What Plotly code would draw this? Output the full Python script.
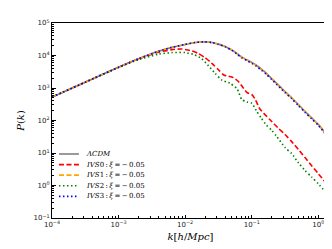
import numpy as np
import plotly.graph_objects as go

# log10(k) and log10(P) values
lcdm_logk = [-4.0, -3.5, -3.0, -2.7, -2.4, -2.2, -2.0, -1.85, -1.72, -1.6, -1.5, -1.4, -1.3, -1.22,
             -1.15, -1.07, -1.0, -0.93, -0.85, -0.78, -0.7, -0.63, -0.5, -0.4, -0.3, -0.2, -0.1, 0.0, 0.16]
lcdm_logP = [2.72, 3.18, 3.64, 3.90, 4.13, 4.25, 4.34, 4.40, 4.42, 4.40, 4.35, 4.28, 4.17, 4.06,
             3.95, 3.86, 3.79, 3.70, 3.57, 3.45, 3.29, 3.15, 2.89, 2.70, 2.49, 2.28, 2.08, 1.88, 1.47]

ivs1_logk = lcdm_logk
ivs1_logP = [2.72, 3.18, 3.64, 3.90, 4.13, 4.25, 4.34, 4.40, 4.42, 4.40, 4.35, 4.28, 4.17, 4.06,
             3.95, 3.86, 3.78, 3.69, 3.56, 3.44, 3.28, 3.14, 2.88, 2.69, 2.48, 2.27, 2.07, 1.87, 1.46]

ivs3_logk = lcdm_logk
ivs3_logP = [2.72, 3.18, 3.64, 3.90, 4.13, 4.25, 4.34, 4.40, 4.42, 4.40, 4.34, 4.27, 4.16, 4.04,
             3.93, 3.84, 3.76, 3.67, 3.54, 3.42, 3.26, 3.12, 2.86, 2.67, 2.46, 2.25, 2.05, 1.85, 1.44]

ivs0_logk = [-4.0, -3.5, -3.0, -2.7, -2.4, -2.2, -2.05, -1.9, -1.8, -1.7, -1.6, -1.5, -1.42, -1.35,
             -1.28, -1.2, -1.12, -1.07, -1.0, -0.95, -0.88, -0.82, -0.73, -0.6, -0.5, -0.4, -0.3,
             -0.2, -0.1, 0.0, 0.16]
ivs0_logP = [2.72, 3.18, 3.64, 3.90, 4.10, 4.18, 4.20, 4.14, 4.06, 3.93, 3.76, 3.56, 3.40, 3.36,
             3.32, 3.20, 2.98, 2.86, 2.80, 2.66, 2.36, 2.22, 2.03, 1.76, 1.57, 1.35, 1.11,
             0.86, 0.61, 0.36, -0.03]

ivs2_logk = [-4.0, -3.5, -3.0, -2.7, -2.4, -2.2, -2.0, -1.87, -1.75, -1.65, -1.55, -1.45, -1.33,
             -1.22, -1.15, -1.07, -1.0, -0.93, -0.86, -0.78, -0.7, -0.63, -0.5, -0.4, -0.3, -0.2,
             -0.1, 0.0, 0.16]
ivs2_logP = [2.72, 3.18, 3.63, 3.87, 4.04, 4.09, 4.09, 4.03, 3.90, 3.68, 3.45, 3.24, 3.15,
             2.97, 2.65, 2.57, 2.53, 2.30, 2.08, 1.86, 1.70, 1.52, 1.17, 0.98, 0.70, 0.46,
             0.26, 0.05, -0.33]

x_tick_exps = [-4, -3, -2, -1, 0]
y_tick_exps = [-1, 0, 1, 2, 3, 4, 5]

T = "\u2009"
def ivs_label(i):
    return f"<i>IVS</i>{i}{T}:{T}<i>ξ</i>{T}={T}−{T}0.05"

series = [
    ("<i>ΛCDM</i>", lcdm_logk, lcdm_logP, "gray", "solid"),
    (ivs_label(0), ivs0_logk, ivs0_logP, "red", "5px,2.5px"),
    (ivs_label(1), ivs1_logk, ivs1_logP, "orange", "5px,2.5px"),
    (ivs_label(2), ivs2_logk, ivs2_logP, "green", "1.5px,2.5px"),
    (ivs_label(3), ivs3_logk, ivs3_logP, "blue", "1.5px,2.5px"),
]

fig = go.Figure()
for name, lk, lp, color, dash in series:
    fig.add_trace(go.Scatter(
        x=10 ** np.array(lk), y=10 ** np.array(lp), mode="lines", name=name,
        line=dict(color=color, width=1.6, dash=dash, shape="spline", smoothing=0.6),
        showlegend=False,
    ))

# manual legend (compact, like matplotlib)
PL, PR, PT, PB = 44, 322, 12, 210
def px_x(p): return (p - PL) / (PR - PL)
def px_y(p): return (PB - p) / (PB - PT)

row_y = [145, 155.8, 166.5, 177.2, 188]
for (name, lk, lp, color, dash), ry in zip(series, row_y):
    fig.add_shape(type="line", xref="paper", yref="paper",
                  x0=px_x(51), x1=px_x(71), y0=px_y(ry), y1=px_y(ry),
                  line=dict(color=color, width=1.6, dash=dash))
    fig.add_annotation(xref="paper", yref="paper", x=px_x(76), y=px_y(ry),
                       xanchor="left", yanchor="middle", showarrow=False, text=name,
                       font=dict(family="DejaVu Serif", size=7, color="black"))

minor_vals = [m * 10.0 ** e for e in range(-5, 6) for m in range(2, 10)]

axis_common = dict(
    type="log", showgrid=False, zeroline=False, showline=True, linecolor="black",
    linewidth=1, mirror=True, ticks="inside", ticklen=3.5, tickcolor="black",
    tickfont=dict(family="DejaVu Sans", size=7, color="#222"),
    minor=dict(ticks="inside", ticklen=2, tickcolor="black", showgrid=False,
               tickmode="array", tickvals=minor_vals),
)

fig.update_xaxes(**axis_common, range=[-4, 0.16],
                 tickmode="array", tickvals=[10.0 ** e for e in x_tick_exps],
                 ticktext=[f"10<sup>{e}</sup>".replace("-", "−") for e in x_tick_exps],
                 title=dict(text="<i>k</i>[<i>h</i>/<i>Mpc</i>]",
                            font=dict(family="DejaVu Serif", size=10, color="black"), standoff=4))
fig.update_yaxes(**axis_common, range=[-1, 5],
                 tickmode="array", tickvals=[10.0 ** e for e in y_tick_exps],
                 ticktext=[f"10<sup>{e}</sup>".replace("-", "−") for e in y_tick_exps],
                 title=dict(text="<i>P</i>(<i>k</i>)",
                            font=dict(family="DejaVu Serif", size=10, color="black"), standoff=6))

fig.update_layout(
    width=332, height=249,
    margin=dict(l=44, r=10, t=12, b=39),
    paper_bgcolor="white", plot_bgcolor="white",
    showlegend=False,
)

fig.write_html("out.html")
